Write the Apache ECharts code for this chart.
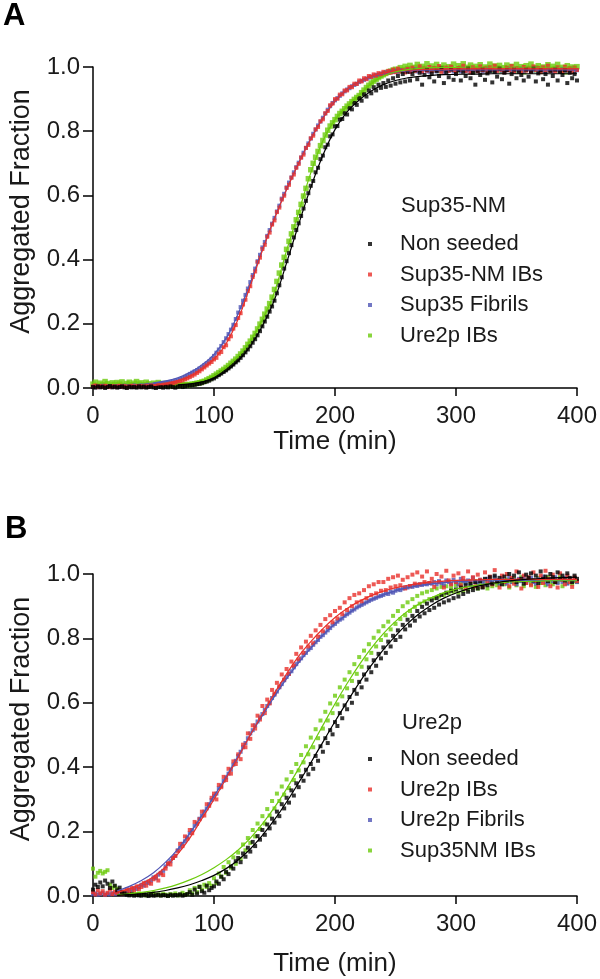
<!DOCTYPE html>
<html><head><meta charset="utf-8">
<script src="https://cdn.jsdelivr.net/npm/echarts@6/dist/echarts.min.js"></script>
<style>html,body{margin:0;padding:0;background:#fff}#c{width:600px;height:979px}</style>
</head><body><div id="c"></div>
<script>
// sampling times (min)
const times = [0,2,4,6,8,10,12,14,16,18,20,22,24,26,28,30,32,34,36,38,40,42,44,46,48,50,52,54,56,58,60,62,64,66,68,70,72,74,76,78,80,82,84,86,88,90,92,94,96,98,100,102,104,106,108,110,112,114,116,118,120,122,124,126,128,130,132,134,136,138,140,142,144,146,148,150,152,154,156,158,160,162,164,166,168,170,172,174,176,178,180,182,184,186,188,190,192,194,196,198,200,202,204,206,208,210,212,214,216,218,220,222,224,226,228,230,232,234,236,238,240,242,244,246,248,250,252,254,256,258,260,262,264,266,268,270,272,274,276,278,280,282,284,286,288,290,292,294,296,298,300,302,304,306,308,310,312,314,316,318,320,322,324,326,328,330,332,334,336,338,340,342,344,346,348,350,352,354,356,358,360,362,364,366,368,370,372,374,376,378,380,382,384,386,388,390,392,394,396,398,400];

// Panel A: Sup35-NM
const aBlack = [.003,.001,.005,.002,.004,.000,.003,.006,.002,.004, .001,.003,.005,.002,.000,.004,.002,.003,.001,.005, .002,.004,.001,.003,.005,.002,.000,.004,.003,.001, .004,.002,.005,.003,.001,.004,.006,.003,.005,.007, .008,.009,.010,.012,.013,.015,.018,.020,.023,.027, .030,.035,.040,.045,.050,.055,.061,.067,.073,.080, .086,.094,.102,.111,.120,.130,.141,.152,.164,.177, .192,.207,.222,.238,.254,.272,.295,.320,.345,.372, .395,.420,.445,.469,.492,.513,.536,.559,.583,.607, .630,.645,.672,.686,.713,.724,.750,.758,.784,.790, .815,.816,.836,.838,.856,.852,.872,.868,.888,.882, .903,.895,.915,.908,.927,.918,.937,.927,.945,.935, .950,.938,.958,.942,.965,.948,.972,.952,.978,.955, .985,.958,.978,.990,.962,.982,.945,.975,.992,.968, .980,.955,.988,.972,.995,.950,.983,.968,.992,.960, .978,.990,.958,.985,.972,.995,.965,.982,.945,.988, .975,.992,.960,.980,.988,.952,.985,.970,.995,.962, .982,.990,.948,.978,.992,.965,.985,.975,.958,.992, .970,.985,.995,.955,.980,.990,.962,.978,.945,.988, .972,.992,.958,.985,.975,.990,.950,.982,.965,.978, .958];
const aRed = [.005,.008,.003,.006,.004,.007,.005,.003,.006,.004, .005,.007,.004,.006,.003,.005,.007,.004,.006,.005, .006,.004,.007,.005,.008,.006,.007,.009,.008,.010, .011,.012,.014,.015,.017,.019,.021,.024,.027,.030, .034,.038,.042,.047,.052,.058,.064,.070,.076,.081, .089,.094,.107,.112,.127,.133,.152,.161,.185,.196, .218,.233,.260,.275,.302,.317,.346,.363,.392,.406, .433,.446,.471,.484,.509,.522,.548,.562,.587,.599, .623,.633,.655,.665,.686,.698,.718,.727,.748,.757, .778,.786,.806,.813,.831,.837,.856,.863,.881,.886, .900,.901,.914,.915,.927,.927,.938,.937,.948,.947, .958,.955,.965,.962,.972,.969,.977,.973,.981,.977, .985,.980,.988,.982,.992,.984,.995,.986,.990,.983, .994,.985,.998,.988,.991,1.002,.986,.995,.989,1.000, .987,.996,.990,1.003,.985,.994,.998,.988,1.001,.991, .986,.997,.992,1.004,.988,.995,.983,.999,.993,.987, 1.002,.990,.996,.985,.999,.992,1.004,.988,.995,.991, .984,.998,.990,1.003,.987,.996,.992,.985,1.000,.989, .995,.986,1.002,.991,.997,.984,.999,.990,1.004,.988, .993,.986,.999,.991,.985,1.001,.990,.996,.984,.998, .991];
const aBlue = [.004,.006,.003,.005,.007,.004,.006,.003,.005,.004, .006,.004,.005,.007,.004,.006,.005,.008,.006,.007, .008,.007,.009,.010,.009,.011,.012,.013,.014,.015, .016,.018,.019,.021,.023,.025,.028,.031,.035,.039, .044,.048,.052,.056,.061,.066,.071,.077,.083,.091, .100,.110,.120,.131,.143,.155,.168,.182,.197,.215, .235,.252,.272,.290,.310,.330,.352,.372,.395,.415, .438,.455,.474,.492,.512,.530,.550,.568,.590,.605, .625,.640,.656,.672,.688,.702,.718,.733,.748,.762, .777,.792,.805,.818,.830,.842,.855,.867,.878,.888, .896,.903,.910,.918,.924,.930,.934,.940,.944,.948, .953,.957,.960,.964,.967,.970,.973,.975,.977,.979, .981,.984,.982,.986,.984,.988,.985,.990,.986,.988, .991,.985,.989,.993,.986,.990,.984,.992,.988,.985, .990,.994,.986,.989,.992,.985,.991,.988,.994,.986, .989,.992,.986,.995,.988,.990,.985,.993,.989,.987, .992,.986,.990,.994,.987,.991,.985,.989,.993,.988, .986,.991,.994,.988,.985,.992,.989,.994,.986,.990, .993,.987,.989,.995,.986,.991,.988,.984,.992,.989, .986,.993,.990,.985,.994,.988,.991,.987,.993,.989, .990];
const aGreen = [.012,.018,.008,.015,.010,.020,.014,.009,.016,.011, .017,.012,.019,.008,.014,.018,.010,.015,.020,.012, .016,.010,.018,.013,.008,.015,.011,.017,.009,.014, .010,.013,.007,.011,.009,.012,.008,.010,.011,.009, .011,.012,.013,.015,.016,.019,.021,.025,.029,.033, .038,.043,.048,.053,.058,.064,.070,.077,.083,.090, .098,.106,.115,.125,.136,.146,.158,.170,.184,.199, .214,.230,.246,.263,.283,.307,.332,.358,.383,.407, .432,.457,.480,.502,.524,.547,.572,.598,.622,.652, .680,.700,.719,.737,.755,.771,.788,.803,.816,.826, .836,.846,.855,.862,.870,.878,.885,.892,.899,.905, .911,.920,.928,.936,.943,.950,.956,.962,.967,.972, .976,.980,.984,.987,.990,.993,.988,.998,.992,1.002, .995,1.005,.990,.999,1.008,.993,1.002,.996,1.010,.991, 1.003,.995,1.008,.989,.998,1.006,.992,1.001,.996,1.009, .990,1.004,.997,1.010,.993,.999,1.006,.988,1.002,.995, 1.007,.992,1.000,.996,1.009,.990,1.003,.997,1.005,.989, .998,1.006,.993,1.002,.988,1.008,.995,1.001,.985,1.004, .996,1.009,.991,.998,1.004,.987,1.000,.994,1.007,.992, 1.002,.995,1.008,.990,.999,.985,1.004,.993,1.000,.996, 1.001];

// Panel B: Ure2p
const bBlack = [.020,.035,.028,.042,.030,.048,.038,.025,.045,.032, .018,.026,.012,.008,.004,.002,.005,.001,.003,.002, .001,.004,.002,.000,.003,.001,.002,.004,.001,.003, .002,.000,.004,.001,.003,.002,.005,.001,.003,.006, .012,.004,.020,.008,.028,.015,.010,.032,.018,.025, .030,.045,.038,.060,.052,.075,.068,.092,.085,.108, .118,.105,.132,.122,.150,.138,.168,.155,.186,.175, .205,.190,.222,.210,.240,.228,.262,.248,.285,.272, .305,.290,.328,.312,.350,.338,.372,.358,.392,.378, .410,.395,.435,.420,.465,.448,.490,.475,.515,.502, .540,.528,.568,.552,.592,.580,.618,.600,.640,.628, .665,.648,.688,.672,.710,.695,.732,.715,.752,.738, .772,.755,.790,.775,.808,.795,.825,.805,.842,.828, .858,.840,.870,.855,.885,.868,.898,.878,.908,.888, .918,.895,.925,.905,.935,.912,.942,.918,.948,.925, .952,.930,.958,.938,.965,.945,.970,.950,.975,.955, .978,.958,.985,.965,.990,.970,.995,.975,.988,.968, .992,.978,1.000,.982,.995,.975,1.005,.985,.970,.998, .988,1.002,.980,.995,.972,1.008,.985,.992,.978,1.000, .990,.975,1.005,.985,.995,.980,1.002,.988,.975,.995, .985];
const bRed = [.012,.005,.018,.008,.015,.004,.010,.020,.006,.013, .009,.016,.007,.014,.021,.012,.025,.018,.030,.022, .028,.040,.032,.045,.038,.052,.060,.048,.070,.065, .085,.102,.098,.118,.125,.140,.162,.155,.185,.178, .205,.195,.230,.225,.238,.262,.250,.285,.280,.305, .318,.300,.345,.338,.370,.360,.395,.380,.418,.410, .440,.425,.470,.462,.505,.488,.530,.520,.560,.548, .590,.568,.610,.598,.640,.628,.662,.650,.688,.672, .705,.690,.728,.715,.752,.735,.772,.755,.790,.775, .808,.785,.825,.805,.842,.822,.860,.835,.872,.850, .885,.862,.895,.875,.912,.888,.925,.900,.935,.912, .940,.915,.950,.925,.962,.935,.968,.940,.975,.948, .975,.950,.985,.958,.990,.962,.995,.965,.982,.955, .990,.962,.998,.970,1.005,.968,.992,.975,1.008,.972, .985,.960,1.000,.975,.992,.958,1.010,.980,.968,.995, .975,1.002,.965,.988,.955,1.008,.978,.990,.962,.998, .982,.960,1.005,.975,.992,.968,1.012,.980,.958,.995, .975,1.000,.962,.988,.970,1.008,.982,.955,.995,.972, .990,.965,1.005,.978,.960,.995,.972,1.010,.985,.962, .998,.975,.958,1.002,.982,.968,.995,.975,.960,.990, .978];
const bBlue = [.005,.008,.004,.006,.010,.003,.007,.005,.009,.006, .010,.008,.013,.011,.016,.020,.018,.024,.022,.028, .035,.032,.042,.040,.048,.058,.055,.066,.072,.078, .092,.100,.108,.118,.125,.142,.150,.162,.170,.182, .195,.205,.218,.225,.240,.250,.262,.272,.285,.298, .310,.318,.335,.342,.358,.368,.380,.392,.408,.420, .435,.448,.462,.475,.490,.505,.515,.530,.542,.555, .565,.578,.590,.600,.615,.625,.635,.648,.658,.670, .680,.690,.698,.710,.720,.730,.738,.748,.755,.765, .770,.780,.788,.795,.805,.810,.818,.825,.832,.840, .845,.852,.858,.862,.870,.875,.880,.886,.890,.896, .900,.904,.908,.912,.916,.920,.923,.926,.930,.932, .935,.940,.938,.945,.942,.948,.952,.950,.955,.958, .958,.962,.960,.965,.963,.968,.966,.970,.968,.972, .970,.975,.968,.978,.972,.965,.980,.975,.970,.982, .975,.968,.985,.978,.972,.980,.965,.988,.975,.970, .982,.975,.968,.985,.978,.972,.990,.980,.970,.985, .978,.970,.988,.975,.982,.968,.985,.978,.990,.972, .980,.988,.975,.970,.985,.978,.992,.975,.968,.985, .978,.990,.972,.982,.975,.988,.970,.985,.978,.982, .975];
const bGreen = [.085,.060,.072,.078,.070,.075,.080,.035,.025,.030, .022,.018,.012,.008,.010,.005,.012,.006,.004,.008, .003,.006,.002,.008,.004,.010,.003,.005,.002,.007, .004,.001,.006,.003,.008,.002,.005,.010,.004,.006, .018,.008,.025,.012,.030,.020,.035,.028,.040,.032, .055,.040,.070,.060,.090,.072,.105,.088,.120,.100, .135,.115,.160,.142,.180,.165,.205,.185,.225,.208, .248,.225,.270,.250,.295,.272,.318,.295,.340,.315, .362,.335,.385,.360,.410,.390,.438,.415,.465,.440, .492,.462,.518,.490,.545,.520,.572,.545,.598,.568, .622,.595,.648,.620,.672,.645,.695,.668,.720,.690, .742,.712,.762,.735,.782,.755,.802,.775,.822,.795, .838,.810,.852,.828,.870,.845,.885,.860,.900,.872, .912,.885,.922,.898,.932,.908,.940,.915,.945,.922, .950,.925,.955,.930,.960,.935,.962,.940,.958,.945, .965,.942,.970,.948,.975,.952,.968,.958,.978,.955, .972,.960,.980,.955,.975,.962,.985,.965,.970,.978, .968,.982,.958,.975,.985,.965,.978,.990,.962,.975, .985,.970,.978,.960,.988,.972,.980,.965,.990,.975, .968,.982,.975,.990,.962,.980,.972,.985,.970,.978, .975];

// fitted curves
const fitTimesA1 = [50,60,70,80,90,100,110,120,130,140,150,160,170,180,190,200,210,220,230,240,250,260,270,280,290,300,310,320,330,340,350,360,370,380,390,400];
const fitARed = [.008,.013,.022,.036,.058,.090,.138,.215,.318,.428,.527,.618,.700,.775,.840,.893,.930,.955,.971,.981,.987,.990,.992,.993,.993,.994,.994,.994,.994,.994,.994,.994,.994,.994,.994,.994];
const fitABlue = [.015,.022,.032,.048,.072,.105,.155,.232,.328,.433,.530,.620,.702,.777,.842,.894,.930,.955,.970,.980,.985,.988,.990,.990,.991,.991,.991,.991,.991,.991,.991,.991,.991,.991,.991,.991];
const fitTimesA2 = [70,80,90,100,110,120,130,140,150,160,170,180,190,200,210,220,230,240,250,260,270,280,290,300,310,320,330,340,350,360,370,380,390,400];
const fitABlack = [.010,.013,.019,.030,.052,.085,.130,.193,.275,.390,.510,.625,.725,.805,.860,.897,.925,.945,.958,.966,.971,.974,.976,.977,.978,.978,.979,.979,.979,.979,.979,.979,.979,.979];
const fitAGreen = [.012,.016,.023,.037,.063,.098,.146,.213,.300,.428,.548,.670,.770,.836,.877,.913,.948,.972,.985,.992,.996,.998,.999,.999,1,1,1,1,1,1,1,1,1,1];
const fitTimesB = [20,30,40,50,60,70,80,90,100,110,120,130,140,150,160,170,180,190,200,210,220,230,240,250,260,270,280,290,300,310,320,330,340,350,360,370,380,390,400];
const fitBRed = [.012,.022,.038,.060,.090,.130,.180,.240,.300,.365,.430,.500,.565,.630,.690,.745,.790,.830,.865,.893,.915,.933,.947,.957,.965,.971,.975,.978,.980,.981,.982,.983,.983,.983,.983,.983,.983,.983,.983];
const fitBBlue = [.016,.030,.048,.072,.105,.145,.195,.250,.310,.370,.435,.500,.560,.620,.675,.725,.770,.810,.845,.875,.900,.920,.935,.948,.957,.964,.969,.973,.976,.978,.979,.979,.980,.980,.980,.980,.980,.980,.980];
const fitBBlack = [.002,.004,.007,.011,.017,.025,.035,.048,.064,.085,.112,.146,.188,.237,.292,.352,.414,.478,.542,.603,.662,.716,.765,.808,.846,.878,.904,.925,.941,.954,.964,.971,.977,.981,.984,.986,.988,.989,.990];
const fitBGreen = [.004,.007,.011,.017,.025,.036,.050,.067,.088,.113,.143,.180,.224,.275,.333,.396,.462,.530,.597,.660,.718,.770,.815,.853,.884,.908,.927,.942,.953,.961,.967,.971,.974,.976,.977,.978,.979,.979,.979];

const legendA = ['Non seeded','Sup35-NM IBs','Sup35 Fibrils','Ure2p IBs'];
const legendB = ['Non seeded','Ure2p IBs ','Ure2p Fibrils','Sup35NM IBs'];
const yTicks = [0,0.2,0.4,0.6,0.8,1.0];
const xTicks = [0,100,200,300,400];

const FONT = '"Liberation Sans", Arial, Helvetica, sans-serif';
const TXT = '#1a1a1a';
const C = {black:'#000000', red:'#e8302a', blue:'#4f55b5', green:'#6ccb0c'};

const pts = (tt, vv) => vv.map((v, i) => [tt[i], v]);

function scatter(name, grid, vals, color, size) {
  return {type:'scatter', name, xAxisIndex:grid, yAxisIndex:grid, data:pts(times, vals),
    symbol:'rect', symbolSize:size || 4, itemStyle:{color}, clip:false, silent:true};
}
function fit(grid, tt, vals, color) {
  return {type:'line', xAxisIndex:grid, yAxisIndex:grid, data:pts(tt, vals), smooth:0.4,
    showSymbol:false, lineStyle:{color, width:1.2}, silent:true, z:3};
}
function xAx(grid, gap) {
  return {gridIndex:grid, type:'value', min:xTicks[0], max:xTicks[xTicks.length-1], interval:100,
    name:'Time (min)', nameLocation:'middle', nameGap:gap,
    nameTextStyle:{fontSize:26, color:TXT, fontFamily:FONT},
    axisLine:{lineStyle:{color:'#000', width:1.5}},
    axisTick:{length:8, lineStyle:{color:'#000', width:1.5}},
    axisLabel:{fontSize:24, margin:16, color:TXT, fontFamily:FONT},
    splitLine:{show:false}};
}
function yAx(grid) {
  return {gridIndex:grid, type:'value', min:yTicks[0], max:yTicks[yTicks.length-1], interval:0.2,
    name:'Aggregated Fraction', nameLocation:'middle', nameGap:58,
    nameTextStyle:{fontSize:27, color:TXT, fontFamily:FONT, padding:[0,0,0,32]},
    axisLine:{show:true, lineStyle:{color:'#000', width:1.5}},
    axisTick:{show:true, length:10, lineStyle:{color:'#000', width:1.5}},
    axisLabel:{fontSize:24, margin:13, color:TXT, fontFamily:FONT, formatter:v => v.toFixed(1)},
    splitLine:{show:false}};
}
function legend(names, top) {
  return {orient:'vertical', left:368, top, itemWidth:4, itemHeight:4, itemGap:8.5, padding:0,
    selectedMode:false, data:names,
    textStyle:{fontSize:22, lineHeight:22, color:TXT, fontFamily:FONT, padding:[0,0,0,23]}};
}

const chart = echarts.init(document.getElementById('c'), null, {renderer:'canvas'});
chart.setOption({
  animation:false,
  backgroundColor:'#fff',
  textStyle:{fontFamily:FONT},
  title:[
    {text:'A', left:3, top:1, padding:0, textStyle:{fontSize:31, fontWeight:'bold', color:'#000', fontFamily:FONT}},
    {text:'B', left:5, top:514, padding:0, textStyle:{fontSize:31, fontWeight:'bold', color:'#000', fontFamily:FONT}},
    {text:'Sup35-NM', left:401, top:195, padding:0, textStyle:{fontSize:22, fontWeight:'normal', color:TXT, fontFamily:FONT}},
    {text:'Ure2p', left:402, top:712, padding:0, textStyle:{fontSize:22, fontWeight:'normal', color:TXT, fontFamily:FONT}}
  ],
  legend:[legend(legendA, 233), legend(legendB, 748)],
  grid:[{left:89, top:67, width:492, height:321}, {left:89, top:574, width:492, height:322}],
  xAxis:[xAx(0, 32), xAx(1, 55)],
  yAxis:[yAx(0), yAx(1)],
  series:[
    scatter('Ure2p IBs', 0, aGreen, C.green, 5.5),
    scatter('Sup35 Fibrils', 0, aBlue, C.blue),
    scatter('Sup35-NM IBs', 0, aRed, C.red),
    scatter('Non seeded', 0, aBlack, C.black),
    fit(0, fitTimesA1, fitABlue, C.blue),
    fit(0, fitTimesA1, fitARed, C.red),
    fit(0, fitTimesA2, fitAGreen, C.green),
    fit(0, fitTimesA2, fitABlack, C.black),
    scatter('Sup35NM IBs', 1, bGreen, C.green),
    scatter('Ure2p Fibrils', 1, bBlue, C.blue),
    scatter('Ure2p IBs ', 1, bRed, C.red),
    scatter('Non seeded', 1, bBlack, C.black),
    fit(1, fitTimesB, fitBBlue, C.blue),
    fit(1, fitTimesB, fitBRed, C.red),
    fit(1, fitTimesB, fitBGreen, C.green),
    fit(1, fitTimesB, fitBBlack, C.black)
  ]
});
</script>
</body></html>
